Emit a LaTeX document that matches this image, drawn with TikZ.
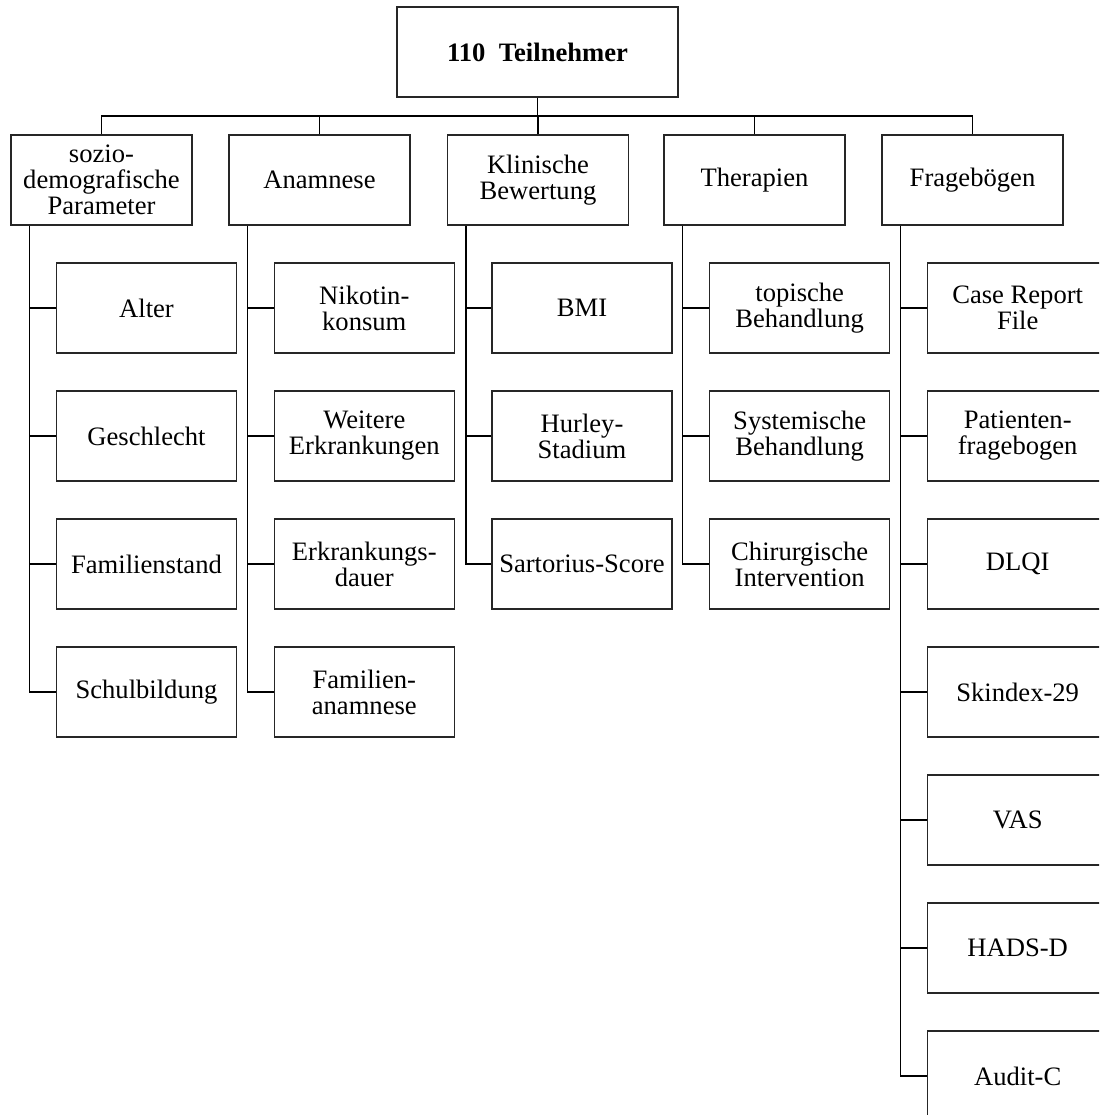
\documentclass[tikz,border=0pt]{standalone}
\usepackage{fontspec}
\setmainfont{Liberation Serif}
\usetikzlibrary{calc}
\begin{document}
\begin{tikzpicture}[x=0.5pt,y=-0.5pt,
  box/.style={draw=black!85,line width=0.6pt,rectangle,inner sep=0pt,align=center,
    font=\fontsize{13.3pt}{13pt}\selectfont},
  topbox/.style={box,minimum width=140.5pt,minimum height=45pt,font=\fontsize{13.3pt}{13pt}\selectfont\bfseries},
  catbox/.style={box,minimum width=90.5pt,minimum height=45pt},
  itembox/.style={box,minimum width=90pt,minimum height=45pt},
  conn/.style={draw=black,line width=0.6pt},
  trunk/.style={draw=black,line width=0.75pt}]
\useasboundingbox (0,0) rectangle (1099,1115);
\clip (0,0) rectangle (1099,1115);
\fill[white] (0,0) rectangle (1099,1115);

% top
\node[topbox] (top) at (537.5,52) {110\ \ Teilnehmer};

% categories
\node[catbox] (ka) at (101.5,180) {sozio-\\demografische\\Parameter};
\node[catbox] (kb) at (319.5,180) {Anamnese};
\node[catbox] (kc) at (538,180) {Klinische\\Bewertung};
\node[catbox] (kd) at (754.5,180) {Therapien};
\node[catbox] (ke) at (972.5,180) {Fragebögen};

\coordinate (bus) at (0,116);
\draw[trunk] (top.south) -- (top.south |- bus);
\draw[conn] (ka.north) |- (ke.north |- bus) -- (ke.north);
\foreach \k in {kb,kc,kd} \draw[conn] (\k.north) -- (\k.north |- bus);

% items column 1
\node[itembox] (a1) at (146.5,308) {Alter};
\node[itembox] (a2) at (146.5,436) {Geschlecht};
\node[itembox] (a3) at (146.5,564) {Familienstand};
\node[itembox] (a4) at (146.5,692) {Schulbildung};
% column 2
\node[itembox] (b1) at (364.3,308) {Nikotin-\\konsum};
\node[itembox] (b2) at (364.3,436) {Weitere\\Erkrankungen};
\node[itembox] (b3) at (364.3,564) {Erkrankungs-\\dauer};
\node[itembox] (b4) at (364.3,692) {Familien-\\anamnese};
% column 3
\node[itembox] (c1) at (582,308) {BMI};
\node[itembox] (c2) at (582,436) {Hurley-\\Stadium};
\node[itembox] (c3) at (582,564) {Sartorius-Score};
% column 4
\node[itembox] (d1) at (799.7,308) {topische\\Behandlung};
\node[itembox] (d2) at (799.7,436) {Systemische\\Behandlung};
\node[itembox] (d3) at (799.7,564) {Chirurgische\\Intervention};
% column 5
\node[itembox] (e1) at (1017.7,308) {Case Report\\File};
\node[itembox] (e2) at (1017.7,436) {Patienten-\\fragebogen};
\node[itembox] (e3) at (1017.7,564) {DLQI};
\node[itembox] (e4) at (1017.7,692) {Skindex-29};
\node[itembox] (e5) at (1017.7,820) {VAS};
\node[itembox] (e6) at (1017.7,948) {HADS-D};
\node[itembox] (e7) at (1017.7,1076) {Audit-C};

% trunks
\foreach \k in {ka,kb,kc,kd,ke}
  \coordinate (t\k) at ($(\k.south west)+(19,0)$);

\draw[trunk] (tka) |- (a4.west);
\foreach \i in {a1,a2,a3} \draw[conn] (tka |- \i.west) -- (\i.west);
\draw[trunk] (tkb) |- (b4.west);
\foreach \i in {b1,b2,b3} \draw[conn] (tkb |- \i.west) -- (\i.west);
\draw[trunk] (tkc) |- (c3.west);
\foreach \i in {c1,c2} \draw[conn] (tkc |- \i.west) -- (\i.west);
\draw[trunk] (tkd) |- (d3.west);
\foreach \i in {d1,d2} \draw[conn] (tkd |- \i.west) -- (\i.west);
\draw[trunk] (tke) |- (e7.west);
\foreach \i in {e1,e2,e3,e4,e5,e6} \draw[conn] (tke |- \i.west) -- (\i.west);
\end{tikzpicture}
\end{document}
